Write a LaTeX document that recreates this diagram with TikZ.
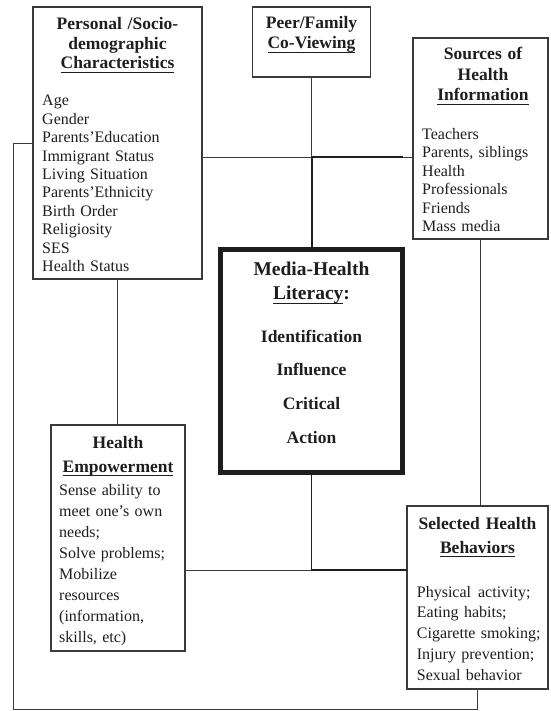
\documentclass[tikz,border=0pt]{standalone}
\usepackage{fontspec}
\setmainfont{Liberation Serif}
% underline drawn at a fixed depth below the baseline
\newcommand{\undr}[1]{\leavevmode\setbox0\hbox{#1}\rlap{\rule[-4.3pt]{\wd0}{1.2pt}}\box0}
\definecolor{ink}{HTML}{1E1E1E}
\definecolor{linegray}{HTML}{3A3A3A}
\begin{document}
\begin{tikzpicture}[x=1pt,y=-1pt,
  box/.style={draw=linegray, line width=1.1pt, rectangle, inner sep=0pt, outer sep=0pt, anchor=north west},
  heavybox/.style={box, draw=ink, line width=4.5pt},
  ttl/.style={anchor=base, align=center, inner sep=0pt, text=ink, font=\bfseries\fontsize{17.5}{19.5}\selectfont},
  body/.style={anchor=base west, align=left, inner sep=0pt, text=ink, text width=150pt, font=\fontsize{16}{18.4}\selectfont},
  wire/.style={draw=linegray, line width=0.9pt},
  midwire/.style={draw=ink, line width=1.3pt},
  heavy/.style={draw=ink, line width=2pt}]
\useasboundingbox[fill=white] (0,0) rectangle (550,711);

% boxes
\node[box, minimum width=169pt, minimum height=272pt] (pers) at (33,7) {};
\node[box, minimum width=118pt, minimum height=70pt] (peer) at (252.5,7) {};
\node[box, minimum width=135pt, minimum height=201pt] (src) at (413,38) {};
\node[heavybox, minimum width=182pt, minimum height=223pt] (media) at (220.5,249.5) {};
\node[box, minimum width=134pt, minimum height=226pt] (emp) at (51,425) {};
\node[box, minimum width=141pt, minimum height=183pt] (sel) at (407,506) {};

% texts
\node[ttl, text width=165pt] (persT) at (117.5,30) {Personal /Socio-\\demographic\\\undr{Characteristics}};
\node[body] (persB) at (42,106) {Age\\Gender\\Parents’Education\\Immigrant Status\\Living Situation\\Parents’Ethnicity\\Birth Order\\Religiosity\\SES\\Health Status};

\node[ttl, text width=115pt] (peerT) at (311.5,29) {Peer/Family\\\undr{Co-Viewing}};

\node[ttl, text width=130pt, font=\bfseries\fontsize{17.5}{20.4}\selectfont] (srcT) at (483,60) {Sources of\\Health\\\undr{Information}};
\node[body, font=\fontsize{16}{18.5}\selectfont] (srcB) at (422,139.3) {Teachers\\Parents, siblings\\Health\\Professionals\\Friends\\Mass media};

\node[ttl, text width=175pt, font=\bfseries\fontsize{19.5}{24.5}\selectfont] (mediaT) at (311.5,275) {Media-Health\\\undr{Literacy}:};
\node[ttl, text width=175pt, font=\bfseries\fontsize{17.5}{33.8}\selectfont] (mediaB) at (311.5,342) {Identification\\Influence\\Critical\\Action};

\node[ttl, text width=130pt, font=\bfseries\fontsize{17.5}{24}\selectfont] (empT) at (118,448) {Health\\\undr{Empowerment}};
\node[body, font=\fontsize{16}{21}\selectfont] (empB) at (59,495) {Sense ability to\\meet one’s own\\needs;\\Solve problems;\\Mobilize\\resources\\(information,\\skills, etc)};

\node[ttl, text width=138pt, font=\bfseries\fontsize{17.5}{24}\selectfont] (selT) at (477.5,529) {Selected Health\\\undr{Behaviors}};
\node[body, font=\fontsize{16}{20.75}\selectfont] (selB) at (416.7,597) {Physical\hspace{7pt}activity;\\Eating habits;\\Cigarette smoking;\\Injury prevention;\\Sexual behavior};

% connectors
\coordinate (hub) at (311.5,157);
\coordinate (hubE) at (403,157);
\coordinate (low) at (311.5,570);
\coordinate (loopA) at (13,143);
\coordinate (loopB) at (13,709);

\draw[wire] (pers.east |- hub) -- (src.west |- hub);
\draw[wire] (peer.south) -- (hub);
\draw[heavy] (hub) -- (hubE);
\draw[heavy] (hub) -- (media.north);
\draw[wire] (pers.south) -- (pers.south |- emp.north);
\draw[wire] (src.south) -- (src.south |- sel.north);
\draw[wire] (emp.east |- low) -- (low);
\draw[midwire] (media.south) -- (low) -- (sel.west |- low);
\draw[wire] (pers.west |- loopA) -- (loopA) -- (loopB) -- (sel.south |- loopB) -- (sel.south);
\end{tikzpicture}
\end{document}
